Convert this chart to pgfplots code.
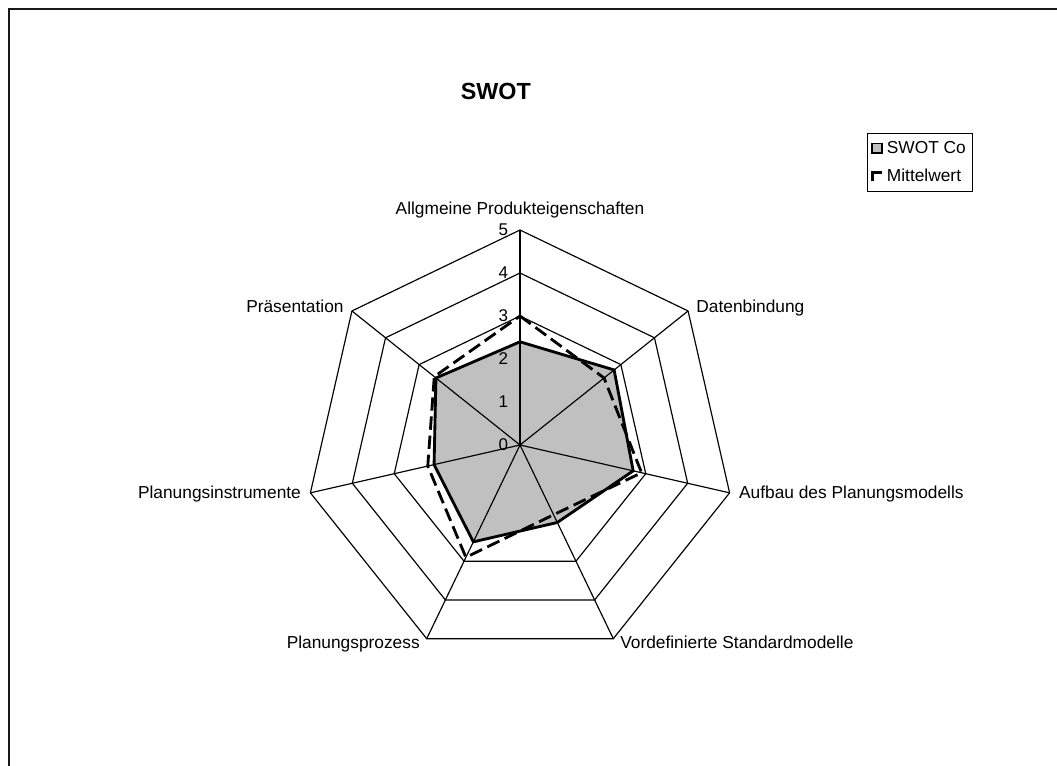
\documentclass[border=0pt]{standalone}
\usepackage{fontspec}
\setmainfont{Liberation Sans}
\usepackage{pgfplots}
\pgfplotsset{compat=1.18}
\usepgfplotslibrary{polar}

\definecolor{silver}{RGB}{192,192,192}

% values per axis, clockwise from the top
\pgfplotstableread{
ang     swot  mittel
90.000  2.4   3.0
38.571  2.8   2.5
347.143 2.7   2.9
295.714 2.0   1.8
244.286 2.5   2.9
192.857 2.05  2.2
141.429 2.5   2.55
90.000  2.4   3.0
}\swotdata

\begin{document}
\begin{tikzpicture}
\clip (0pt,0pt) rectangle (634.2pt,459pt);
\path[use as bounding box] (0pt,0pt) rectangle (634.2pt,459pt);
\draw[black!90, line width=1.2pt] (5.4pt,-10pt) -- (5.4pt,453.6pt) -- (650pt,453.6pt);

\node[font=\fontsize{14}{16}\selectfont\bfseries] at (297.5pt,404.4pt) {SWOT};

\begin{polaraxis}[
  at={(312pt,192pt)}, anchor=center,
  scale only axis, width=258pt, height=258pt,
  xmin=0, xmax=360, ymin=0, ymax=5,
  hide axis, clip=false,
  legend style={at={(1.307,1.226)}, anchor=north west,
                draw=black, line width=0.8pt,
                font=\fontsize{10.4}{12}\selectfont,
                inner xsep=2pt, inner ysep=2.5pt, row sep=4pt},
  legend cell align=left,
]
% heptagon rings
\pgfplotsinvokeforeach{3,4,5}{
  \addplot[black, line width=0.7pt, forget plot] coordinates {
    (90,#1) (38.571,#1) (347.143,#1) (295.714,#1)
    (244.286,#1) (192.857,#1) (141.429,#1) (90,#1)};
}
\addplot[fill=silver, draw=black, line width=1.7pt,
  legend image code/.code={
    \draw[fill=silver, draw=black, line width=1.1pt, solid]
      (0pt,-2.9pt) rectangle (5.8pt,2.9pt);}]
  table[x=ang, y=swot] {\swotdata};
\addlegendentry{SWOT Co}
% spokes
\pgfplotsinvokeforeach{90,38.571,347.143,295.714,244.286,192.857,141.429}{
  \addplot[black, line width=0.7pt, forget plot] coordinates {(#1,0) (#1,5)};
}
\addplot[black, line width=1.7pt, dash pattern=on 8pt off 3.5pt,
  legend image code/.code={
    \draw[black, line width=2pt, solid]
      (0.5pt,-3pt) -- (0.5pt,2.4pt) -- (6pt,2.4pt);}]
  table[x=ang, y=mittel] {\swotdata};
\addlegendentry{Mittelwert}

% radial tick labels
\pgfplotsinvokeforeach{0,1,2,3,4,5}{
  \node[anchor=east, font=\fontsize{10.2}{12}\selectfont, inner sep=0pt,
        xshift=-7pt] at (axis cs:90,#1) {#1};
}
% category labels
\begin{scope}[every node/.style={font=\fontsize{10.4}{12}\selectfont, inner sep=0pt}]
\node[anchor=base, yshift=9.3pt] at (axis cs:90,5) {Allgmeine Produkteigenschaften};
\node[anchor=base west, xshift=4.8pt, yshift=-1pt] at (axis cs:38.571,5) {Datenbindung};
\node[anchor=base west, xshift=5.5pt, yshift=-3.3pt] at (axis cs:347.143,5) {Aufbau des Planungsmodells};
\node[anchor=base west, xshift=4pt, yshift=-6pt] at (axis cs:295.714,5) {Vordefinierte Standardmodelle};
\node[anchor=base east, xshift=-4pt, yshift=-6pt] at (axis cs:244.286,5) {Planungsprozess};
\node[anchor=base east, xshift=-5.5pt, yshift=-3.3pt] at (axis cs:192.857,5) {Planungsinstrumente};
\node[anchor=base east, xshift=-4.8pt, yshift=-1pt] at (axis cs:141.429,5) {Präsentation};
\end{scope}
\end{polaraxis}
\end{tikzpicture}
\end{document}
